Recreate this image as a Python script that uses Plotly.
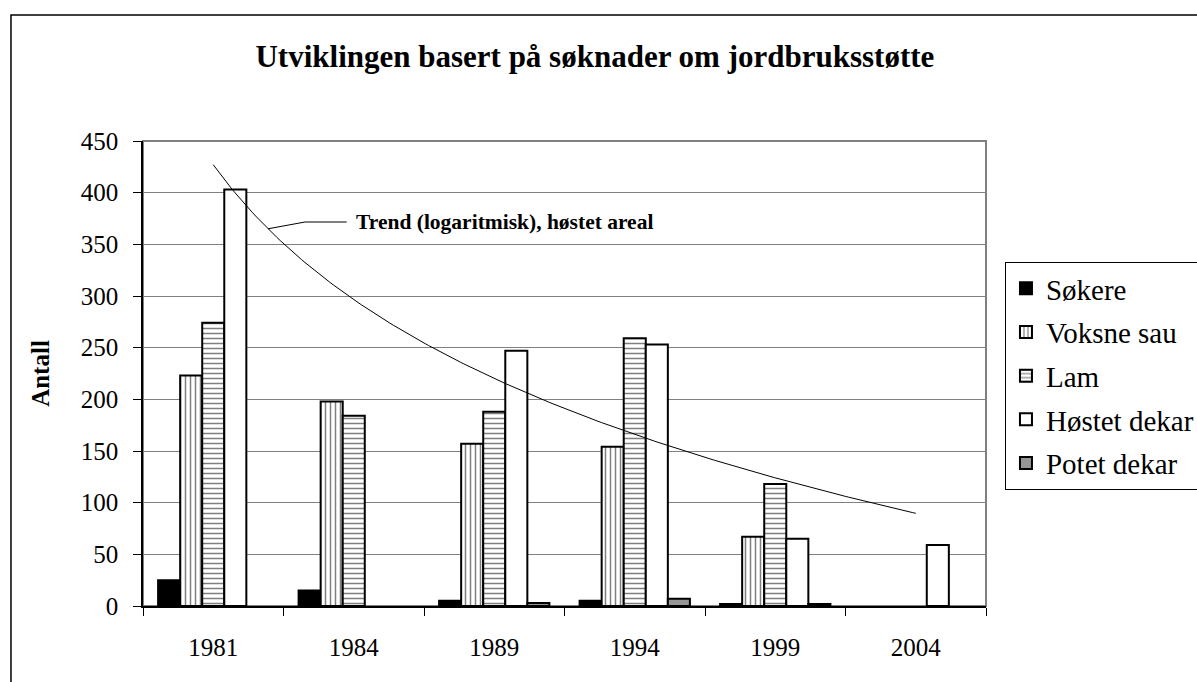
import numpy as np
import plotly.graph_objects as go

years = ["1981", "1984", "1989", "1994", "1999", "2004"]
sokere = [25, 15, 5, 5, 2, None]
voksne_sau = [223, 198, 157, 154, 67, None]
lam = [274, 184, 188, 259, 118, None]
hostet_dekar = [403, None, 247, 253, 65, 59]
potet_dekar = [None, None, 3, 7, 2, None]

FONT = "Liberation Serif, Times New Roman, serif"
pos = list(range(1, len(years) + 1))

fig = go.Figure()

def add_bar(name, vals, color, pattern=None):
    marker = dict(color=color, line=dict(color="black", width=2))
    if pattern:
        marker["pattern"] = pattern
    fig.add_trace(go.Bar(x=pos, y=vals, name=name, marker=marker, legendgroup=name))

add_bar("Søkere", sokere, "black")
add_bar("Voksne sau", voksne_sau, "white",
        dict(shape="|", fgcolor="black", bgcolor="white", size=5, solidity=0.3))
add_bar("Lam", lam, "white",
        dict(shape="-", fgcolor="black", bgcolor="white", size=5, solidity=0.3))
add_bar("Høstet dekar", hostet_dekar, "white")
add_bar("Potet dekar", potet_dekar, "#969696")

# logarithmic trend for Høstet dekar (least squares on ln(x))
px = np.array([p for p, v in zip(pos, hostet_dekar) if v is not None], float)
py = np.array([v for v in hostet_dekar if v is not None], float)
a, b = np.polyfit(np.log(px), py, 1)
tx = np.linspace(1, len(years), 200)
ty = a * np.log(tx) + b
fig.add_trace(go.Scatter(x=tx, y=ty, mode="lines", line=dict(color="black", width=1),
                         showlegend=False, hoverinfo="skip"))

# leader line for trend label
lx0 = 1.39
ly0 = a * np.log(lx0) + b
ly = 371.6
fig.add_shape(type="path", xref="x", yref="y",
              path=f"M {lx0},{ly0} L 1.653,{ly} L 1.95,{ly}",
              line=dict(color="black", width=1))
fig.add_annotation(x=2.005, y=ly, xref="x", yref="y", xanchor="left", yanchor="middle",
                   text="<b>Trend (logaritmisk), høstet areal</b>", showarrow=False,
                   font=dict(family=FONT, size=21.5, color="black"))

# plot area frame (gray) and outer chart border
fig.add_shape(type="rect", xref="paper", yref="paper", x0=0, y0=0, x1=1, y1=1,
              line=dict(color="#808080", width=2), layer="below")
fig.add_shape(type="rect", xref="paper", yref="paper", x0=-0.1566, y0=-0.3, x1=1.4, y1=1.271,
              line=dict(color="black", width=1.5), layer="below")

fig.update_layout(
    width=1197, height=682,
    margin=dict(l=143, r=211, t=141, b=76, autoexpand=False),
    paper_bgcolor="white", plot_bgcolor="white",
    barmode="group", bargap=0.215, bargroupgap=0,
    font=dict(family=FONT, color="black"),
    title=dict(text="<b>Utviklingen basert på søknader om jordbruksstøtte</b>",
               x=0.497, xanchor="center", y=1 - 56 / 682, yanchor="middle",
               font=dict(family=FONT, size=31, color="black")),
    legend=dict(x=1.0225, y=0.74, xanchor="left", yanchor="top",
                bordercolor="black", borderwidth=1, bgcolor="white",
                font=dict(family=FONT, size=29, color="black"),
                itemwidth=30, traceorder="grouped", tracegroupgap=3),
    showlegend=True,
)
fig.update_xaxes(range=[0.5, len(years) + 0.5], tickmode="array", tickvals=pos, ticktext=years,
                 ticks="", showgrid=False, showline=True, linecolor="black", linewidth=1.5,
                 tickfont=dict(family=FONT, size=25, color="black"), ticklabelstandoff=18,
                 minor=dict(tickmode="array", tickvals=[p - 0.5 for p in pos] + [len(years) + 0.5],
                            ticks="outside", ticklen=8, tickcolor="black", tickwidth=1, showgrid=False),
                 zeroline=False, fixedrange=True)
fig.update_yaxes(range=[0, 450], tickmode="linear", tick0=0, dtick=50,
                 ticks="outside", ticklen=8, tickcolor="black",
                 showgrid=True, gridcolor="#808080", gridwidth=1,
                 showline=True, linecolor="black", linewidth=1.5,
                 tickfont=dict(family=FONT, size=25, color="black"), ticklabelstandoff=10,
                 title=dict(text="<b>Antall</b>", font=dict(family=FONT, size=25, color="black"), standoff=24),
                 zeroline=False)

fig.write_html("out.html", config={"displayModeBar": False},
               post_script="document.body.style.margin='0';document.body.style.overflow='hidden';")
